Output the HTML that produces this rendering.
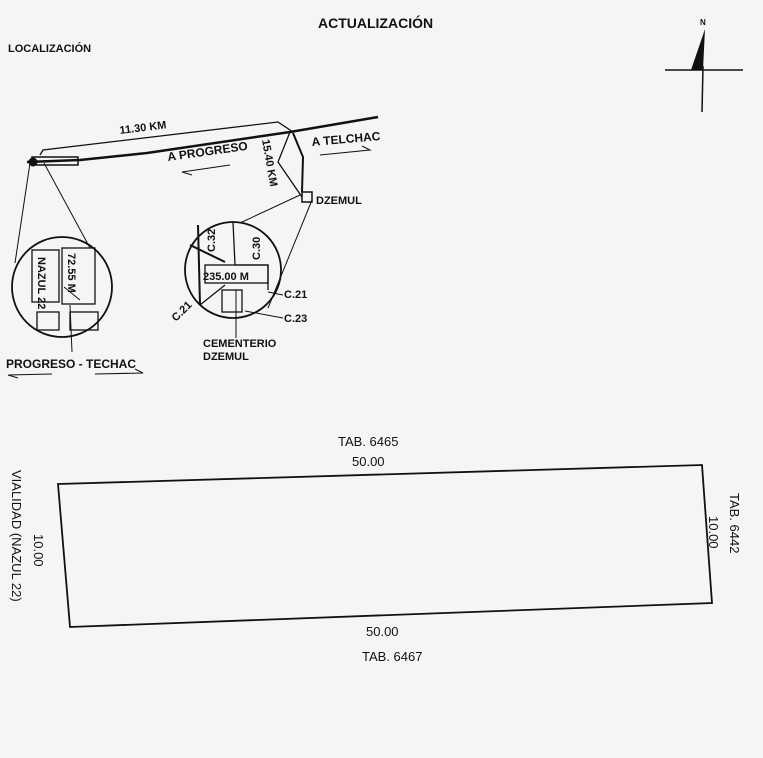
<!DOCTYPE html>
<html><head><style>
body{margin:0;background:#f5f5f3;}
svg{display:block;font-family:"Liberation Sans",Arial,sans-serif;}
</style></head><body>
<svg width="763" height="758" viewBox="0 0 763 758" xmlns="http://www.w3.org/2000/svg">
<rect width="763" height="758" fill="#f5f5f3"/>
<g fill="#111" font-weight="bold">
<text x="318" y="28" font-size="14">ACTUALIZACIÓN</text>
<text x="8" y="52" font-size="11">LOCALIZACIÓN</text>
<text x="700" y="25" font-size="8">N</text>
</g>
<polygon points="691,70 703,70 705,29" fill="#111"/>
<line x1="665" y1="70" x2="743" y2="70" stroke="#111" stroke-width="1.5"/>
<line x1="703" y1="66" x2="702" y2="112" stroke="#111" stroke-width="1.5"/>
<g fill="none" stroke="#111">
<polyline points="27,162 80,160 147,153 290,132 378,117" stroke-width="2.5"/>
<polyline points="40,155 43,150 278,122 293,132" stroke-width="1.3"/>
<polyline points="290,132 278,162 302,197" stroke-width="1.3"/>
<polyline points="293,133 303,157 302,192" stroke-width="2"/>
<rect x="32" y="157" width="46" height="8" stroke-width="1.5"/>
<rect x="302" y="192" width="10" height="10" stroke-width="1.5"/>
<circle cx="33" cy="162" r="4" fill="#111"/>
<line x1="30" y1="163" x2="15" y2="263" stroke-width="1"/>
<line x1="44" y1="163" x2="90" y2="248" stroke-width="1"/>
<line x1="300" y1="195" x2="240" y2="223" stroke-width="1"/>
<line x1="312" y1="200" x2="268" y2="308" stroke-width="1"/>
<circle cx="62" cy="287" r="50" stroke-width="1.8"/>
<rect x="32" y="250" width="27" height="52" stroke-width="1.3"/>
<rect x="62" y="248" width="33" height="56" stroke-width="1.3"/>
<rect x="37" y="312" width="22" height="18" stroke-width="1.3"/>
<rect x="70" y="312" width="28" height="18" stroke-width="1.3"/>
<line x1="70" y1="305" x2="72" y2="352" stroke-width="1"/>
<line x1="64" y1="287" x2="80" y2="300" stroke-width="1"/>
<circle cx="233" cy="270" r="48" stroke-width="1.8"/>
<polyline points="233,222 235,265 268,265 268,290" stroke-width="1.3"/>
<rect x="205" y="265" width="63" height="18" stroke-width="1.3"/>
<line x1="190" y1="245" x2="225" y2="262" stroke-width="2"/>
<line x1="198" y1="225" x2="200" y2="305" stroke-width="2"/>
<line x1="200" y1="305" x2="225" y2="285" stroke-width="1.3"/>
<rect x="222" y="290" width="20" height="22" stroke-width="1.3"/>
<line x1="236" y1="290" x2="236" y2="338" stroke-width="1"/>
<line x1="268" y1="292" x2="283" y2="295" stroke-width="1"/>
<line x1="245" y1="311" x2="283" y2="318" stroke-width="1"/>
</g>
<g fill="#111" font-weight="bold" font-size="11">
<text x="120" y="134" transform="rotate(-7 120 134)">11.30 KM</text>
<text x="168" y="161" font-size="12" transform="rotate(-8 168 161)">A PROGRESO</text>
<text x="312" y="146" font-size="12" transform="rotate(-5 312 146)">A TELCHAC</text>
<text x="262" y="140" transform="rotate(80 262 140)">15.40 KM</text>
<text x="316" y="204">DZEMUL</text>
<text x="38" y="257" transform="rotate(90 38 257)">NAZUL 22</text>
<text x="68" y="253" transform="rotate(90 68 253)">72.55 M</text>
<text x="215" y="252" transform="rotate(-90 215 252)">C.32</text>
<text x="260" y="260" transform="rotate(-90 260 260)">C.30</text>
<text x="203" y="280">235.00 M</text>
<text x="284" y="298">C.21</text>
<text x="284" y="322">C.23</text>
<text x="176" y="322" transform="rotate(-45 176 322)">C.21</text>
<text x="203" y="347">CEMENTERIO</text>
<text x="203" y="360">DZEMUL</text>
<text x="6" y="368" font-size="12">PROGRESO - TECHAC</text>
</g>
<g stroke="#111" fill="none" stroke-width="1">
<polyline points="230,165 182,172 192,175"/>
<polyline points="320,155 370,150 362,146"/>
<polyline points="52,374 8,375 18,378"/>
<polyline points="95,374 143,373 135,369"/>
</g>
<polygon points="58,484 702,465 712,603 70,627" fill="none" stroke="#111" stroke-width="1.8"/>
<g fill="#111" font-size="13">
<text x="338" y="446">TAB. 6465</text>
<text x="352" y="466">50.00</text>
<text x="366" y="636">50.00</text>
<text x="362" y="661">TAB. 6467</text>
<text x="12" y="470" transform="rotate(90 12 470)">VIALIDAD (NAZUL 22)</text>
<text x="34" y="534" transform="rotate(90 34 534)">10.00</text>
<text x="730" y="493" transform="rotate(90 730 493)">TAB. 6442</text>
<text x="709" y="516" transform="rotate(90 709 516)">10.00</text>
</g>
</svg>
</body></html>
